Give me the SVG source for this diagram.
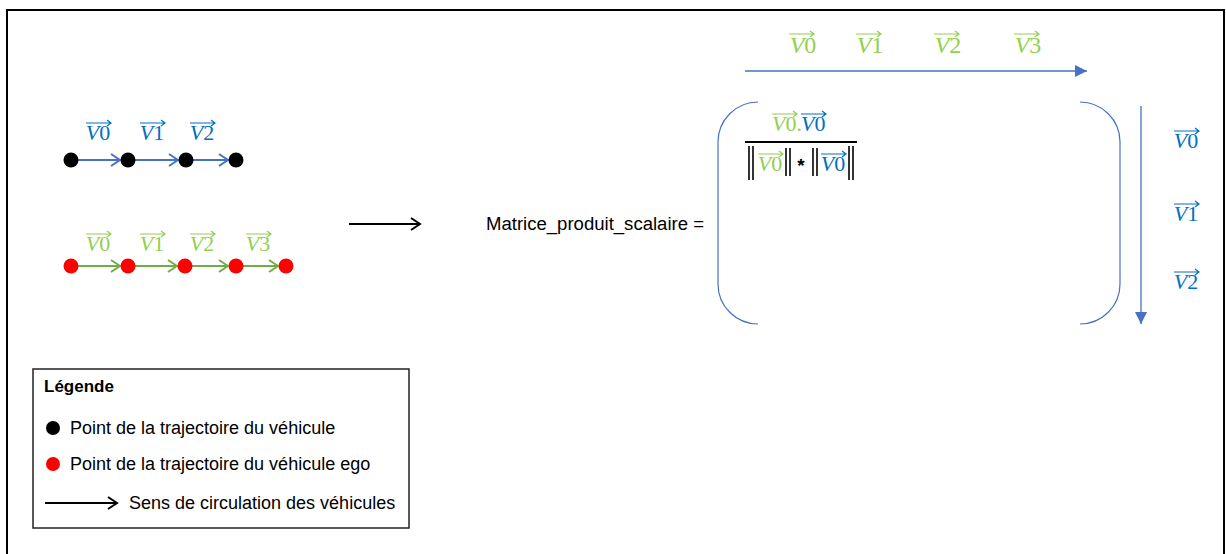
<svg xmlns="http://www.w3.org/2000/svg" xmlns:xlink="http://www.w3.org/1999/xlink" width="1226" height="554" viewBox="0 0 1226 554">
<style>
.lbl{font-family:"Liberation Serif",serif;font-style:italic;font-size:22px;text-anchor:middle}
.lbl tspan.d{font-style:normal}
.txt{font-family:"Liberation Sans",Arial,sans-serif;font-size:18px;fill:#000}
.g{fill:#92D050}
.b{fill:#0070C0}
</style>
<defs>
<marker id="chevB" markerUnits="userSpaceOnUse" markerWidth="14" markerHeight="16" refX="10" refY="7" orient="auto"><path d="M1,1 L10,7 L1,13" fill="none" stroke="#4472C4" stroke-width="2"/></marker>
<marker id="chevG" markerUnits="userSpaceOnUse" markerWidth="14" markerHeight="16" refX="10" refY="7" orient="auto"><path d="M1,1 L10,7 L1,13" fill="none" stroke="#70AD47" stroke-width="2"/></marker>
<marker id="chevK" markerUnits="userSpaceOnUse" markerWidth="14" markerHeight="16" refX="10" refY="7" orient="auto"><path d="M1,1 L10,7 L1,13" fill="none" stroke="#000" stroke-width="2"/></marker>
<marker id="triB" markerUnits="userSpaceOnUse" markerWidth="14" markerHeight="12" refX="12" refY="6" orient="auto"><path d="M0,0 L12,6 L0,12 Z" fill="#4472C4"/></marker>
<g id="vec"><path d="M0,0 H25 M21,-3 L25,0 L21,3" fill="none" stroke="currentColor" stroke-width="1.2"/></g>
</defs>

<rect x="7" y="10" width="1217" height="600" fill="#fff" stroke="#000" stroke-width="2"/>

<g id="connectors">
<line x1="78" y1="160" x2="120" y2="160" stroke="#4472C4" stroke-width="2" marker-end="url(#chevB)"/>
<line x1="135" y1="160" x2="178" y2="160" stroke="#4472C4" stroke-width="2" marker-end="url(#chevB)"/>
<line x1="193" y1="160" x2="228" y2="160" stroke="#4472C4" stroke-width="2" marker-end="url(#chevB)"/>
<line x1="78" y1="266" x2="120" y2="266" stroke="#70AD47" stroke-width="2" marker-end="url(#chevG)"/>
<line x1="135" y1="266" x2="177" y2="266" stroke="#70AD47" stroke-width="2" marker-end="url(#chevG)"/>
<line x1="192" y1="266" x2="228" y2="266" stroke="#70AD47" stroke-width="2" marker-end="url(#chevG)"/>
<line x1="243" y1="266" x2="278" y2="266" stroke="#70AD47" stroke-width="2" marker-end="url(#chevG)"/>
<line x1="349" y1="224" x2="420" y2="224" stroke="#000" stroke-width="2" marker-end="url(#chevK)"/>
<line x1="745" y1="71" x2="1087" y2="71" stroke="#4472C4" stroke-width="1.3" marker-end="url(#triB)"/>
<line x1="1141" y1="106" x2="1141" y2="324" stroke="#4472C4" stroke-width="1.3" marker-end="url(#triB)"/>
</g>

<g id="vehicle-points">
<circle cx="71" cy="160" r="7.5" fill="#000"/>
<circle cx="128" cy="160" r="7.5" fill="#000"/>
<circle cx="186" cy="160" r="7.5" fill="#000"/>
<circle cx="236" cy="160" r="7.5" fill="#000"/>
<text class="lbl b" x="98" y="140">V<tspan class="d">0</tspan></text><use href="#vec" x="86" y="123" color="#0070C0"/>
<text class="lbl b" x="152" y="140">V<tspan class="d">1</tspan></text><use href="#vec" x="140" y="123" color="#0070C0"/>
<text class="lbl b" x="202" y="140">V<tspan class="d">2</tspan></text><use href="#vec" x="190" y="123" color="#0070C0"/>
</g>

<g id="ego-points">
<circle cx="71" cy="266" r="7.5" fill="#FF0000"/>
<circle cx="128" cy="266" r="7.5" fill="#FF0000"/>
<circle cx="185" cy="266" r="7.5" fill="#FF0000"/>
<circle cx="236" cy="266" r="7.5" fill="#FF0000"/>
<circle cx="286" cy="266" r="7.5" fill="#FF0000"/>
<text class="lbl g" x="98" y="251">V<tspan class="d">0</tspan></text><use href="#vec" x="86" y="234" color="#92D050"/>
<text class="lbl g" x="152" y="251">V<tspan class="d">1</tspan></text><use href="#vec" x="140" y="234" color="#92D050"/>
<text class="lbl g" x="202" y="251">V<tspan class="d">2</tspan></text><use href="#vec" x="190" y="234" color="#92D050"/>
<text class="lbl g" x="258" y="251">V<tspan class="d">3</tspan></text><use href="#vec" x="246" y="234" color="#92D050"/>
</g>

<g id="matrix-title">
<text class="txt" x="486" y="230" textLength="218" lengthAdjust="spacingAndGlyphs">Matrice_produit_scalaire =</text>
</g>

<g id="matrix">
<path d="M758,102 A40,40 0 0 0 718,142 V284 A40,40 0 0 0 758,324" fill="none" stroke="#4472C4" stroke-width="1.2"/>
<path d="M1080,102 A40,40 0 0 1 1120,142 V284 A40,40 0 0 1 1080,324" fill="none" stroke="#4472C4" stroke-width="1.2"/>
<text class="lbl g" x="803" y="53" style="font-size:24px">V<tspan class="d">0</tspan></text><use href="#vec" x="789" y="34" color="#92D050"/>
<text class="lbl g" x="870" y="53" style="font-size:24px">V<tspan class="d">1</tspan></text><use href="#vec" x="856" y="34" color="#92D050"/>
<text class="lbl g" x="948" y="53" style="font-size:24px">V<tspan class="d">2</tspan></text><use href="#vec" x="934" y="34" color="#92D050"/>
<text class="lbl g" x="1028" y="53" style="font-size:24px">V<tspan class="d">3</tspan></text><use href="#vec" x="1014" y="34" color="#92D050"/>
<text class="lbl b" x="1186" y="148">V<tspan class="d">0</tspan></text><use href="#vec" x="1174" y="131" color="#0070C0"/>
<text class="lbl b" x="1186" y="221">V<tspan class="d">1</tspan></text><use href="#vec" x="1174" y="204" color="#0070C0"/>
<text class="lbl b" x="1186" y="289">V<tspan class="d">2</tspan></text><use href="#vec" x="1174" y="272" color="#0070C0"/>
<text class="lbl g" x="772" y="131" style="text-anchor:start">V<tspan class="d">0.</tspan></text><use href="#vec" x="772" y="114" color="#92D050"/>
<text class="lbl b" x="801" y="131" style="text-anchor:start">V<tspan class="d">0</tspan></text><use href="#vec" x="801" y="114" color="#0070C0"/>
<line x1="745" y1="142" x2="857" y2="142" stroke="#000" stroke-width="2"/>
<g stroke="#000" stroke-width="1.6">
<line x1="749" y1="146" x2="749" y2="180"/><line x1="753" y1="146" x2="753" y2="180"/>
<line x1="786" y1="148" x2="786" y2="176"/><line x1="790" y1="148" x2="790" y2="176"/>
<line x1="813" y1="148" x2="813" y2="176"/><line x1="817" y1="148" x2="817" y2="176"/>
<line x1="849" y1="146" x2="849" y2="180"/><line x1="853" y1="146" x2="853" y2="180"/>
</g>
<text class="lbl g" x="770" y="171">V<tspan class="d">0</tspan></text><use href="#vec" x="758" y="154" color="#92D050"/>
<text x="801" y="172" style="font-family:'Liberation Sans',sans-serif;font-size:19px;font-weight:bold;text-anchor:middle">*</text>
<text class="lbl b" x="833" y="171">V<tspan class="d">0</tspan></text><use href="#vec" x="821" y="154" color="#0070C0"/>
</g>

<g id="legend">
<rect x="33" y="369" width="376" height="159" fill="#fff" stroke="#222" stroke-width="1.5"/>
<text class="txt" x="44" y="392" style="font-weight:bold;font-size:17px">Légende</text>
<circle cx="53" cy="428" r="7" fill="#000"/>
<text class="txt" x="70" y="434">Point de la trajectoire du véhicule</text>
<circle cx="53" cy="464" r="7" fill="#FF0000"/>
<text class="txt" x="70" y="470">Point de la trajectoire du véhicule ego</text>
<line x1="45" y1="503" x2="117" y2="503" stroke="#000" stroke-width="2" marker-end="url(#chevK)"/>
<text class="txt" x="129" y="509">Sens de circulation des véhicules</text>
</g>
</svg>
